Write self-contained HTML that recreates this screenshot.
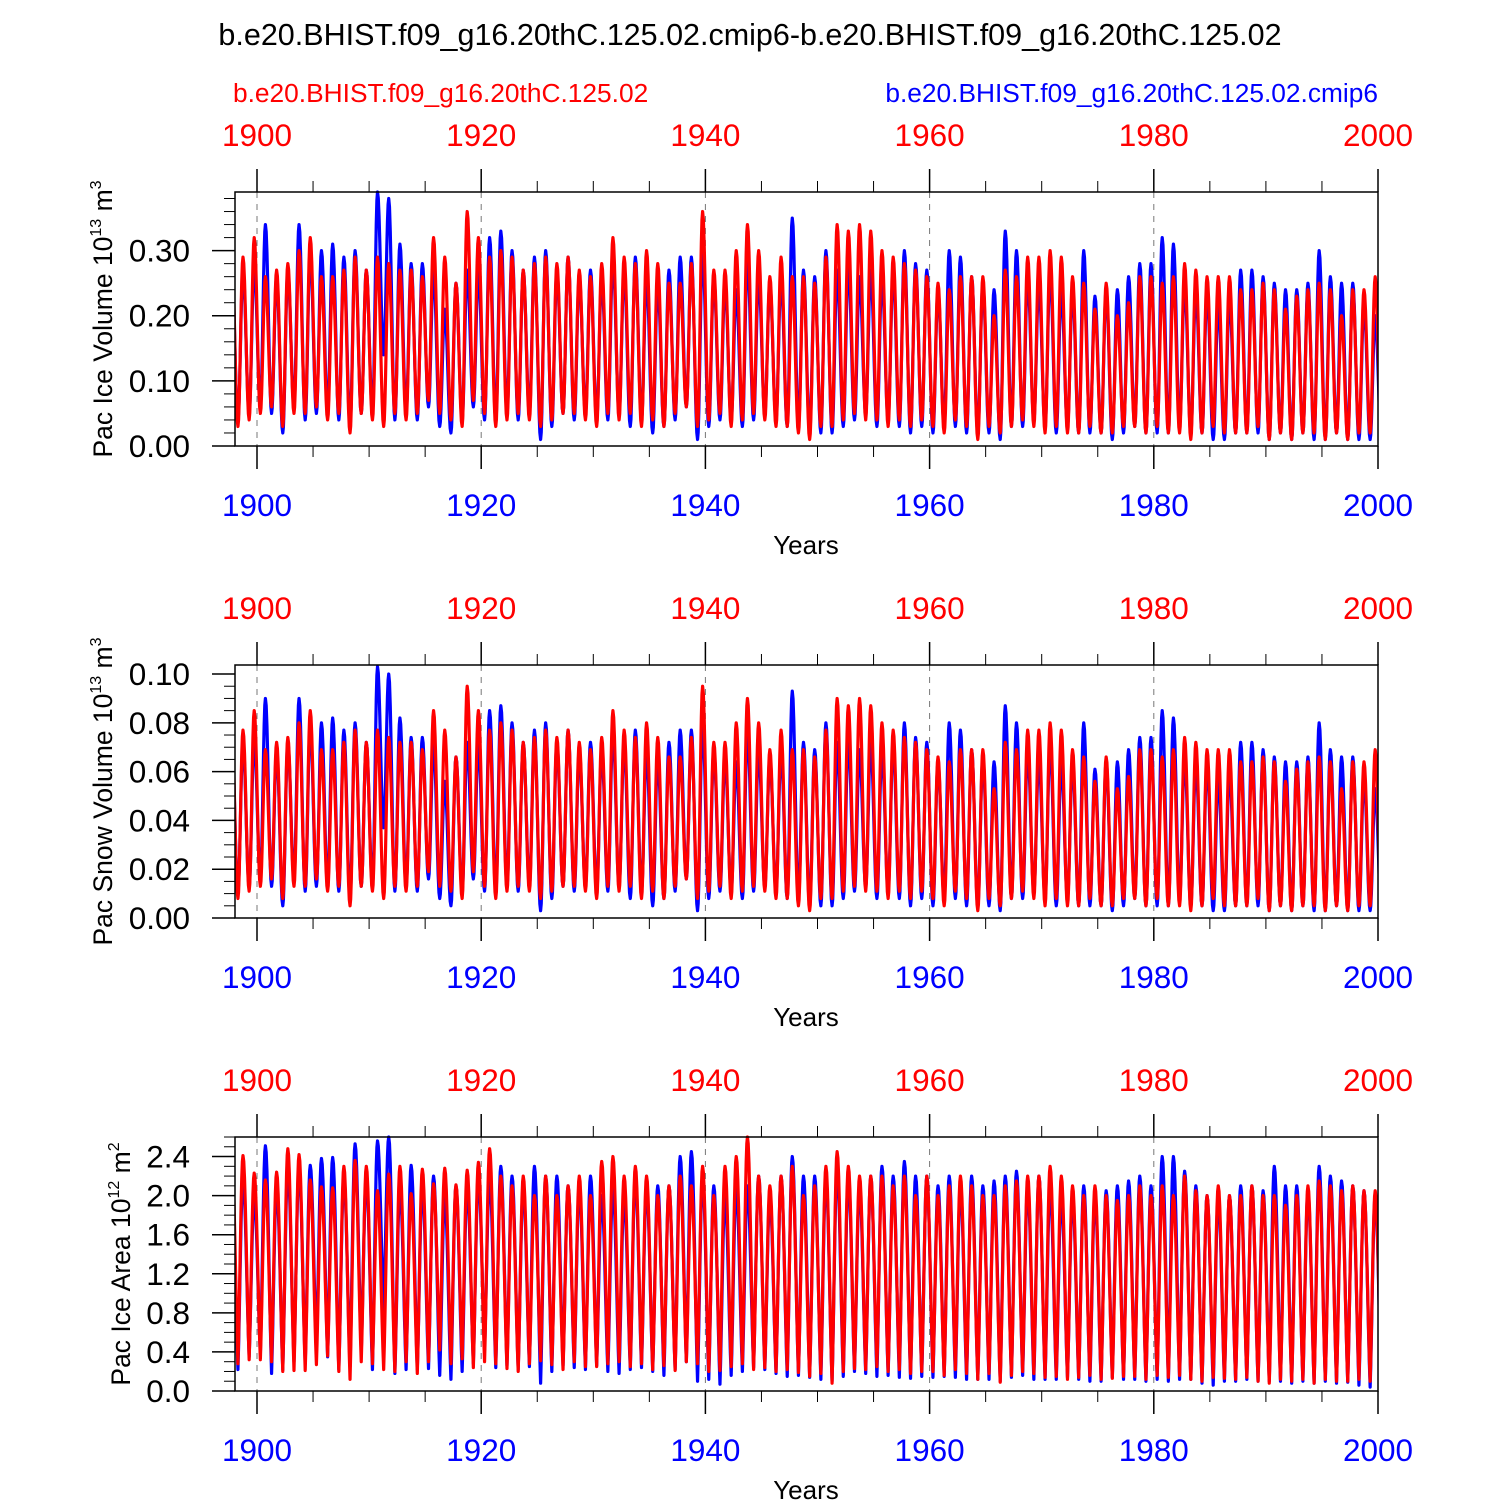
<!DOCTYPE html>
<html><head><meta charset="utf-8"><title>Pac ice chart</title>
<style>
html,body{margin:0;padding:0;background:#fff;}
svg{display:block;font-family:"Liberation Sans",Arial,sans-serif;}
</style></head>
<body>
<svg id="chart" width="1500" height="1500" viewBox="0 0 1500 1500" xmlns="http://www.w3.org/2000/svg">
<rect x="0" y="0" width="1500" height="1500" fill="#fff"/>
<text x="750" y="45" font-size="30.5" text-anchor="middle" fill="#000">b.e20.BHIST.f09_g16.20thC.125.02.cmip6-b.e20.BHIST.f09_g16.20thC.125.02</text>
<text x="233" y="102" font-size="26.3" fill="#ff0000">b.e20.BHIST.f09_g16.20thC.125.02</text>
<text x="1378" y="102" font-size="26.3" text-anchor="end" fill="#0000ff">b.e20.BHIST.f09_g16.20thC.125.02.cmip6</text>
<g id="panels"></g>
</svg>
<script>
// Year range of the data: 1898 .. 1999 (102 years), each row = one decade after the first (1898,1899)
const years = [];
for (let y = 1898; y <= 1999; y++) years.push(y);
const xTickLabels = ["1900","1920","1940","1960","1980","2000"];

// Panel 1: Pac Ice Volume (10^13 m^3) — annual max / min
const iceRedMax = [.29,.32,
.26,.27,.28,.30,.32,.26,.26,.27,.29,.27,
.29,.28,.27,.27,.26,.32,.29,.25,.36,.32,
.29,.30,.29,.27,.28,.29,.28,.29,.27,.26,
.28,.32,.29,.28,.30,.28,.25,.25,.28,.36,
.27,.27,.30,.34,.30,.26,.29,.26,.26,.25,
.29,.34,.33,.34,.33,.30,.29,.28,.27,.26,
.25,.24,.26,.26,.26,.20,.27,.26,.29,.29,
.30,.29,.26,.25,.21,.25,.20,.22,.26,.26,
.25,.26,.28,.27,.26,.26,.26,.24,.24,.25,
.24,.21,.23,.24,.25,.24,.20,.24,.24,.26];
const iceBlueMax = [.27,.28,
.34,.26,.27,.34,.30,.30,.31,.29,.30,.27,
.39,.38,.31,.28,.28,.27,.21,.25,.27,.27,
.32,.33,.30,.27,.29,.30,.27,.29,.26,.27,
.26,.29,.27,.29,.26,.25,.27,.29,.29,.30,
.26,.25,.24,.29,.26,.25,.26,.35,.27,.26,
.30,.27,.28,.26,.27,.26,.27,.30,.28,.27,
.24,.30,.29,.26,.25,.24,.33,.30,.26,.25,
.27,.24,.24,.30,.23,.24,.24,.26,.28,.28,
.32,.31,.25,.24,.24,.22,.23,.27,.27,.26,
.25,.24,.24,.25,.30,.26,.25,.25,.22,.20];
const iceRedMin = [.03,.04,
.05,.06,.03,.05,.05,.06,.04,.05,.02,.05,
.04,.03,.05,.04,.05,.07,.05,.04,.03,.07,
.05,.03,.04,.05,.04,.03,.04,.05,.05,.04,
.03,.05,.04,.05,.03,.04,.03,.05,.06,.03,
.04,.05,.03,.04,.05,.04,.03,.03,.02,.01,
.03,.03,.04,.05,.04,.04,.03,.04,.03,.04,
.03,.02,.04,.03,.01,.03,.02,.03,.04,.03,
.02,.03,.02,.02,.03,.02,.02,.03,.03,.02,
.03,.02,.02,.01,.02,.03,.02,.02,.02,.03,
.01,.02,.01,.02,.02,.01,.02,.01,.02,.02];
const iceBlueMin = [.04,.05,
.06,.05,.02,.06,.04,.05,.05,.04,.03,.05,
.05,.14,.04,.05,.04,.06,.03,.02,.04,.06,
.04,.04,.05,.04,.05,.01,.03,.05,.04,.05,
.04,.04,.05,.03,.04,.02,.03,.04,.06,.01,
.03,.04,.04,.03,.04,.05,.04,.03,.03,.02,
.02,.02,.03,.04,.05,.03,.04,.03,.02,.03,
.02,.03,.03,.02,.02,.02,.01,.03,.03,.04,
.03,.02,.03,.02,.02,.02,.01,.02,.03,.02,
.02,.02,.03,.02,.02,.01,.01,.02,.02,.02,
.01,.02,.01,.02,.01,.01,.02,.01,.01,.01];
const iceTicks = ["0.00","0.10","0.20","0.30"];

// Panel 2: Pac Snow Volume (10^13 m^3)
const snowRedMax = [.077,.085,
.069,.072,.074,.080,.085,.069,.069,.072,.077,.072,
.077,.074,.072,.072,.069,.085,.077,.066,.095,.085,
.077,.080,.077,.072,.074,.077,.074,.077,.072,.069,
.074,.085,.077,.074,.080,.074,.066,.066,.074,.095,
.072,.072,.080,.090,.080,.069,.077,.069,.069,.066,
.077,.090,.087,.090,.087,.080,.077,.074,.072,.069,
.066,.064,.069,.069,.069,.053,.072,.069,.077,.077,
.080,.077,.069,.066,.056,.066,.053,.058,.069,.069,
.066,.069,.074,.072,.069,.069,.069,.064,.064,.066,
.064,.056,.061,.064,.066,.064,.053,.064,.064,.069];
const snowBlueMax = [.072,.074,
.090,.069,.072,.090,.080,.080,.082,.077,.080,.072,
.103,.100,.082,.074,.074,.072,.056,.066,.072,.072,
.085,.087,.080,.072,.077,.080,.072,.077,.069,.072,
.069,.077,.072,.077,.069,.066,.072,.077,.077,.080,
.069,.066,.064,.077,.069,.066,.069,.093,.072,.069,
.080,.072,.074,.069,.072,.069,.072,.080,.074,.072,
.064,.080,.077,.069,.066,.064,.087,.080,.069,.066,
.072,.064,.064,.080,.061,.064,.064,.069,.074,.074,
.085,.082,.066,.064,.064,.058,.061,.072,.072,.069,
.066,.064,.064,.066,.080,.069,.066,.066,.058,.053];
const snowRedMin = [.008,.011,
.013,.016,.008,.013,.013,.016,.011,.013,.005,.013,
.011,.008,.013,.011,.013,.019,.013,.011,.008,.019,
.013,.008,.011,.013,.011,.008,.011,.013,.013,.011,
.008,.013,.011,.013,.008,.011,.008,.013,.016,.008,
.011,.013,.008,.011,.013,.011,.008,.008,.005,.003,
.008,.008,.011,.013,.011,.011,.008,.011,.008,.011,
.008,.005,.011,.008,.003,.008,.005,.008,.011,.008,
.005,.008,.005,.005,.008,.005,.005,.008,.008,.005,
.008,.005,.005,.003,.005,.008,.005,.005,.005,.008,
.003,.005,.003,.005,.005,.003,.005,.003,.005,.005];
const snowBlueMin = [.011,.013,
.016,.013,.005,.016,.011,.013,.013,.011,.008,.013,
.013,.037,.011,.013,.011,.016,.008,.005,.011,.016,
.011,.011,.013,.011,.013,.003,.008,.013,.011,.013,
.011,.011,.013,.008,.011,.005,.008,.011,.016,.003,
.008,.011,.011,.008,.011,.013,.011,.008,.008,.005,
.005,.005,.008,.011,.013,.008,.011,.008,.005,.008,
.005,.008,.008,.005,.005,.005,.003,.008,.008,.011,
.008,.005,.008,.005,.005,.005,.003,.005,.008,.005,
.005,.005,.008,.005,.005,.003,.003,.005,.005,.005,
.003,.005,.003,.005,.003,.003,.005,.003,.003,.003];
const snowTicks = ["0.00","0.02","0.04","0.06","0.08","0.10"];

// Panel 3: Pac Ice Area (10^12 m^2)
const areaRedMax = [2.41,2.23,
2.16,2.24,2.48,2.42,2.16,2.09,2.08,2.30,2.36,2.30,
2.05,2.22,2.30,2.02,2.27,2.12,2.28,2.11,2.26,2.34,
2.48,2.20,2.10,2.20,2.00,2.20,2.00,2.10,2.20,2.00,
2.35,2.40,2.20,2.30,2.20,2.00,2.10,2.20,2.10,2.30,
2.00,2.30,2.40,2.60,2.20,2.10,2.20,2.30,2.00,2.10,
2.30,2.45,2.30,2.20,2.20,2.20,2.10,2.20,2.00,2.20,
2.00,2.10,2.20,2.10,2.00,2.00,2.10,2.15,2.20,2.20,
2.30,2.20,2.10,2.00,2.10,2.00,1.95,2.00,2.10,2.00,
2.10,2.00,2.20,2.05,2.00,2.10,2.00,2.00,2.10,2.00,
2.00,1.90,2.00,2.10,2.15,2.10,2.05,2.10,2.05,2.05];
const areaBlueMax = [2.20,2.00,
2.51,2.10,2.30,2.30,2.31,2.38,2.39,2.20,2.53,2.20,
2.56,2.60,2.10,2.31,2.10,2.20,2.00,2.10,2.10,2.20,
2.20,2.30,2.20,2.10,2.30,2.20,2.20,2.10,2.10,2.20,
2.00,2.10,2.00,2.20,2.10,2.10,2.10,2.40,2.45,2.20,
2.10,2.00,2.10,2.10,2.20,2.00,2.20,2.40,2.20,2.20,
2.20,2.30,2.20,2.10,2.20,2.30,2.20,2.35,2.20,2.20,
2.10,2.20,2.10,2.20,2.10,2.15,2.20,2.25,2.10,2.20,
2.10,2.00,2.00,2.10,2.00,2.05,2.10,2.15,2.20,2.10,
2.40,2.40,2.25,2.10,2.00,2.00,2.00,2.10,2.10,2.05,
2.30,2.10,2.10,2.05,2.30,2.20,2.15,2.10,2.05,2.00];
const areaRedMin = [.28,.32,
.32,.30,.20,.21,.21,.27,.36,.20,.12,.30,
.28,.22,.20,.30,.18,.30,.42,.28,.33,.24,
.30,.28,.23,.20,.28,.31,.27,.22,.30,.25,
.25,.28,.30,.25,.28,.22,.26,.21,.30,.28,
.20,.21,.25,.28,.22,.24,.20,.22,.19,.15,
.18,.08,.20,.23,.22,.25,.20,.22,.18,.20,
.20,.16,.22,.18,.12,.18,.09,.16,.20,.18,
.14,.15,.12,.14,.16,.12,.13,.15,.15,.12,
.16,.14,.16,.12,.10,.14,.13,.12,.14,.10,
.08,.12,.10,.12,.08,.12,.10,.10,.12,.10];
const areaBlueMin = [.22,.35,
.38,.18,.22,.30,.28,.40,.35,.22,.25,.40,
.22,.80,.18,.22,.22,.23,.16,.12,.20,.28,
.42,.24,.26,.22,.25,.08,.20,.26,.24,.22,
.26,.20,.18,.22,.24,.20,.16,.22,.30,.10,
.12,.07,.16,.20,.24,.22,.18,.15,.16,.14,
.12,.10,.15,.20,.18,.15,.16,.14,.13,.15,
.14,.15,.14,.12,.12,.12,.10,.14,.16,.12,
.12,.12,.14,.12,.10,.10,.14,.12,.12,.10,
.12,.10,.12,.12,.08,.06,.10,.10,.12,.10,
.10,.10,.08,.10,.08,.10,.08,.09,.06,.04];
const areaTicks = ["0.0","0.4","0.8","1.2","1.6","2.0","2.4"];

const NS = "http://www.w3.org/2000/svg";
const X0 = 235, X1 = 1378;
function xScale(yr){ return 257 + (yr - 1900) * (1378 - 257) / 100; }
function el(tag, attrs, parent){
  const e = document.createElementNS(NS, tag);
  for (const k in attrs) e.setAttribute(k, attrs[k]);
  parent.appendChild(e);
  return e;
}

const panels = [
  {key:"ice", top:192, bot:446, ymax:0.39, major:0.1, minor:0.02, ticks:iceTicks,
   red:[iceRedMax,iceRedMin], blue:[iceBlueMax,iceBlueMin], title:"Pac Ice Volume 10", exp:"13", unit:" m", uexp:"3", tx:112, sharp:false},
  {key:"snow", top:665, bot:918, ymax:0.1037, major:0.02, minor:0.005, ticks:snowTicks,
   red:[snowRedMax,snowRedMin], blue:[snowBlueMax,snowBlueMin], title:"Pac Snow Volume 10", exp:"13", unit:" m", uexp:"3", tx:112, sharp:false},
  {key:"area", top:1137, bot:1391, ymax:2.6, major:0.4, minor:0.1, ticks:areaTicks,
   red:[areaRedMax,areaRedMin], blue:[areaBlueMax,areaBlueMin], title:"Pac Ice Area 10", exp:"12", unit:" m", uexp:"2", tx:130, sharp:true}
];

const root = document.getElementById("panels");
panels.forEach((p, pi) => {
  const g = el("g", {}, root);
  
  
  const yScale = v => p.bot - v / p.ymax * (p.bot - p.top);
  const clipId = "clip" + pi;
  const cp = el("clipPath", {id: clipId}, g);
  el("rect", {x:X0, y:p.top-10, width:X1-X0, height:p.bot-p.top+20}, cp);

  for (let yr = 1900; yr < 2000; yr += 20) {
    const gl = el("line", {x1:xScale(yr), x2:xScale(yr), y1:p.top, y2:p.bot, stroke:"#777", "stroke-width":1, "stroke-dasharray":"6,6"}, g);
    
    
  }

  function seriesPath(maxArr, minArr, color, name){
    const ext = [];
    ext.push([years[0] - 1 + 0.75, maxArr[0]]);
    for (let i = 0; i < years.length; i++) {
      ext.push([years[i] + 0.3, minArr[i]]);
      ext.push([years[i] + 0.75, maxArr[i]]);
    }
    ext.push([years[years.length-1] + 1.3, minArr[minArr.length-1]]);
    let d = "";
    for (let k = 0; k < ext.length - 1; k++) {
      const [t0, v0] = ext[k], [t1, v1] = ext[k+1];
      const n = 8;
      for (let s = (k === 0 ? 0 : 1); s <= n; s++) {
        const f = s / n;
        let w = (1 - Math.cos(Math.PI * f)) / 2;
        if (p.sharp) { w = v1 > v0 ? Math.sin(Math.PI * f / 2) : 1 - Math.cos(Math.PI * f / 2); w = 0.5 * w + 0.5 * ((1 - Math.cos(Math.PI * f)) / 2); }
        const t = t0 + (t1 - t0) * f;
        const v = v0 + (v1 - v0) * w;
        d += (d ? "L" : "M") + xScale(t).toFixed(2) + "," + yScale(v).toFixed(2);
      }
    }
    const path = el("path", {d:d, fill:"none", stroke:color, "stroke-width":3.2, "stroke-linejoin":"round", "clip-path":"url(#"+clipId+")"}, g);
    
    
  }
  seriesPath(p.blue[0], p.blue[1], "#0000ff", p.key + "-cmip6-line");
  seriesPath(p.red[0], p.red[1], "#ff0000", p.key + "-base-line");

  const fr = el("rect", {x:X0, y:p.top, width:X1-X0, height:p.bot-p.top, fill:"none", stroke:"#000", "stroke-width":1.5}, g);
  
  

  for (let yr = 1900; yr <= 2000; yr += 5) {
    const major = (yr % 20 === 0);
    const len = major ? 23 : 11;
    const x = xScale(yr);
    const t1 = el("line", {x1:x, x2:x, y1:p.top, y2:p.top-len, stroke:"#000", "stroke-width":major?1.5:1}, g);
    
    
    const t2 = el("line", {x1:x, x2:x, y1:p.bot, y2:p.bot+len, stroke:"#000", "stroke-width":major?1.5:1}, g);
    
    
  }
  xTickLabels.forEach(lbl => {
    const x = xScale(+lbl);
    const a = el("text", {x:x, y:p.top-46, "font-size":31.5, "text-anchor":"middle", fill:"#ff0000"}, g);
    a.textContent = lbl;
    
    
    const b = el("text", {x:x, y:p.bot+70, "font-size":31.5, "text-anchor":"middle", fill:"#0000ff"}, g);
    b.textContent = lbl;
    
    
  });
  const xt = el("text", {x:806, y:p.bot+108, "font-size":26, "text-anchor":"middle", fill:"#000"}, g);
  xt.textContent = "Years";
  
  

  const nMinor = Math.floor(p.ymax / p.minor + 1e-6);
  const ratio = Math.round(p.major / p.minor);
  for (let i = 0; i <= nMinor; i++) {
    const v = i * p.minor;
    const major = (i % ratio === 0);
    const y = yScale(v);
    const t = el("line", {x1:X0, x2:X0-(major?23:11), y1:y, y2:y, stroke:"#000", "stroke-width":major?1.5:1}, g);
    
    
  }
  p.ticks.forEach(lbl => {
    const y = yScale(parseFloat(lbl));
    const t = el("text", {x:190, y:y+11, "font-size":31.5, "text-anchor":"end", fill:"#000"}, g);
    t.textContent = lbl;
    
    
  });

  const cy = (p.top + p.bot) / 2;
  const yt = el("text", {x:0, y:0, "font-size":26.5, "text-anchor":"middle", fill:"#000", transform:"translate("+p.tx+","+cy+") rotate(-90)"}, g);
  
  
  const s1 = el("tspan", {}, yt); s1.textContent = p.title;
  const s2 = el("tspan", {dy:-11, "font-size":16}, yt); s2.textContent = p.exp;
  const s3 = el("tspan", {dy:11}, yt); s3.textContent = p.unit;
  const s4 = el("tspan", {dy:-11, "font-size":16}, yt); s4.textContent = p.uexp;
});
</script>
</body></html>
